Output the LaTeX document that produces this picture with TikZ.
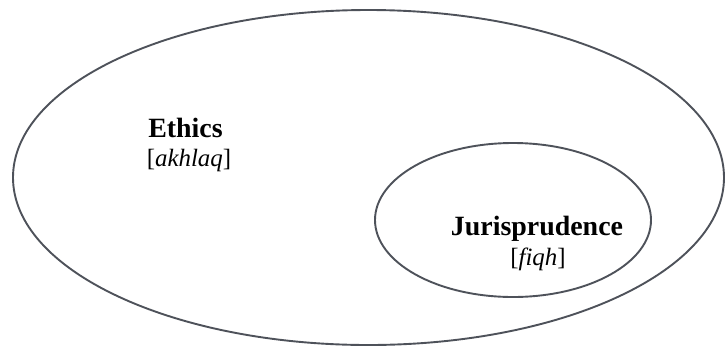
\documentclass[tikz,border=0pt]{standalone}
\usepackage{fontspec}
\setmainfont{Liberation Serif}
\definecolor{linegray}{RGB}{78,82,90}
\begin{document}
\begin{tikzpicture}[x=1bp,y=-1bp,
  ring/.style={draw=linegray,line width=1.9bp},
  head/.style={anchor=base,inner sep=0pt,font=\fontsize{28}{33}\selectfont\bfseries},
  sub/.style={anchor=base,inner sep=0pt,font=\fontsize{25}{30}\selectfont}]
\useasboundingbox (0,0) rectangle (725,347);
\draw[ring] (368.5,177.5) ellipse [x radius=355.5, y radius=167.5];
\draw[ring] (513,220) ellipse [x radius=138, y radius=77];
\node[head] (ethics) at (185.5,137) {Ethics};
\node[sub] (akhlaq) at (189,166) {[\textit{akhlaq}]};
\node[head] (juris) at (537,235) {Jurisprudence};
\node[sub] (fiqh) at (538,265) {[\textit{fiqh}]};
\end{tikzpicture}
\end{document}
